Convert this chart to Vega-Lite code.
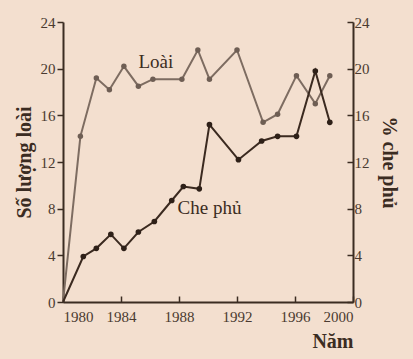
{
  "$schema": "https://vega.github.io/schema/vega-lite/v6.json",
  "autosize": "none",
  "width": 290,
  "height": 280,
  "padding": {"left": 63, "top": 22, "right": 60, "bottom": 57},
  "background": "#f3dfcf",
  "config": {
    "view": {"stroke": null},
    "font": "Liberation Serif",
    "axis": {
      "grid": false,
      "domainColor": "#3b2c22",
      "domainWidth": 2,
      "tickColor": "#3b2c22",
      "tickWidth": 1.5,
      "labelFont": "Liberation Serif",
      "labelFontSize": 15,
      "labelColor": "#4a3a30",
      "titleFont": "Liberation Serif",
      "titleFontSize": 20,
      "titleFontWeight": "bold",
      "titleColor": "#3b2c22"
    }
  },
  "datasets": {
    "series": [
      {"year": 1980, "value": 0, "series": "Loài"},
      {"year": 1981.2, "value": 14.2, "series": "Loài"},
      {"year": 1982.3, "value": 19.2, "series": "Loài"},
      {"year": 1983.2, "value": 18.2, "series": "Loài"},
      {"year": 1984.2, "value": 20.2, "series": "Loài"},
      {"year": 1985.2, "value": 18.5, "series": "Loài"},
      {"year": 1986.2, "value": 19.1, "series": "Loài"},
      {"year": 1988.2, "value": 19.1, "series": "Loài"},
      {"year": 1989.3, "value": 21.6, "series": "Loài"},
      {"year": 1990.1, "value": 19.1, "series": "Loài"},
      {"year": 1992.0, "value": 21.6, "series": "Loài"},
      {"year": 1993.8, "value": 15.4, "series": "Loài"},
      {"year": 1994.8, "value": 16.1, "series": "Loài"},
      {"year": 1996.1, "value": 19.4, "series": "Loài"},
      {"year": 1997.4, "value": 17.0, "series": "Loài"},
      {"year": 1998.4, "value": 19.4, "series": "Loài"},
      {"year": 1980, "value": 0, "series": "Che phủ"},
      {"year": 1981.4, "value": 3.9, "series": "Che phủ"},
      {"year": 1982.3, "value": 4.6, "series": "Che phủ"},
      {"year": 1983.3, "value": 5.8, "series": "Che phủ"},
      {"year": 1984.2, "value": 4.6, "series": "Che phủ"},
      {"year": 1985.2, "value": 6.0, "series": "Che phủ"},
      {"year": 1986.3, "value": 6.9, "series": "Che phủ"},
      {"year": 1987.5, "value": 8.7, "series": "Che phủ"},
      {"year": 1988.3, "value": 9.9, "series": "Che phủ"},
      {"year": 1989.4, "value": 9.7, "series": "Che phủ"},
      {"year": 1990.1, "value": 15.2, "series": "Che phủ"},
      {"year": 1992.1, "value": 12.2, "series": "Che phủ"},
      {"year": 1993.7, "value": 13.8, "series": "Che phủ"},
      {"year": 1994.8, "value": 14.2, "series": "Che phủ"},
      {"year": 1996.1, "value": 14.2, "series": "Che phủ"},
      {"year": 1997.4, "value": 19.8, "series": "Che phủ"},
      {"year": 1998.4, "value": 15.4, "series": "Che phủ"}
    ],
    "labels": [
      {"year": 1986.4, "value": 20.6, "text": "Loài"},
      {"year": 1990.1, "value": 8.1, "text": "Che phủ"}
    ]
  },
  "encoding": {
    "x": {
      "field": "year",
      "type": "quantitative",
      "scale": {"domain": [1980, 2000], "nice": false, "zero": false},
      "axis": {
        "values": [1980, 1984, 1988, 1992, 1996, 2000],
        "format": "d",
        "title": "Năm",
        "titleAnchor": "end",
        "titleAlign": "right",
        "titlePadding": 7,
        "tickSize": -6,
        "labelPadding": 13
      }
    }
  },
  "layer": [
    {
      "data": {"name": "series"},
      "transform": [{"filter": "datum.series === 'Loài'"}],
      "encoding": {
        "y": {
          "field": "value",
          "type": "quantitative",
          "scale": {"domain": [0, 24], "nice": false},
          "axis": {
            "orient": "left",
            "values": [0, 4, 8, 12, 16, 20, 24],
            "title": "Số lượng loài",
            "tickSize": 6,
            "labelPadding": 2,
            "titlePadding": 6
          }
        }
      },
      "layer": [
        {"mark": {"type": "line", "color": "#7d6c61", "strokeWidth": 2}},
        {
          "transform": [{"filter": "datum.year > 1980"}],
          "mark": {"type": "point", "filled": true, "color": "#6e5e54", "size": 30, "opacity": 1}
        }
      ]
    },
    {
      "data": {"name": "series"},
      "transform": [{"filter": "datum.series === 'Che phủ'"}],
      "encoding": {
        "y": {
          "field": "value",
          "type": "quantitative",
          "scale": {"domain": [0, 24], "nice": false},
          "axis": {
            "orient": "right",
            "values": [0, 4, 8, 12, 16, 20, 24],
            "title": "% che phủ",
            "tickSize": -6,
            "labelPadding": 7,
            "titlePadding": 9
          }
        }
      },
      "layer": [
        {"mark": {"type": "line", "color": "#3b2a20", "strokeWidth": 2}},
        {
          "transform": [{"filter": "datum.year > 1980"}],
          "mark": {"type": "point", "filled": true, "color": "#2e2018", "size": 32, "opacity": 1}
        }
      ]
    },
    {
      "data": {"name": "labels"},
      "mark": {"type": "text", "font": "Liberation Serif", "fontSize": 19, "color": "#3b2c22", "align": "center", "baseline": "middle"},
      "encoding": {
        "y": {"field": "value", "type": "quantitative", "scale": {"domain": [0, 24], "nice": false}, "axis": null},
        "text": {"field": "text"}
      }
    }
  ],
  "resolve": {"scale": {"y": "independent"}}
}
